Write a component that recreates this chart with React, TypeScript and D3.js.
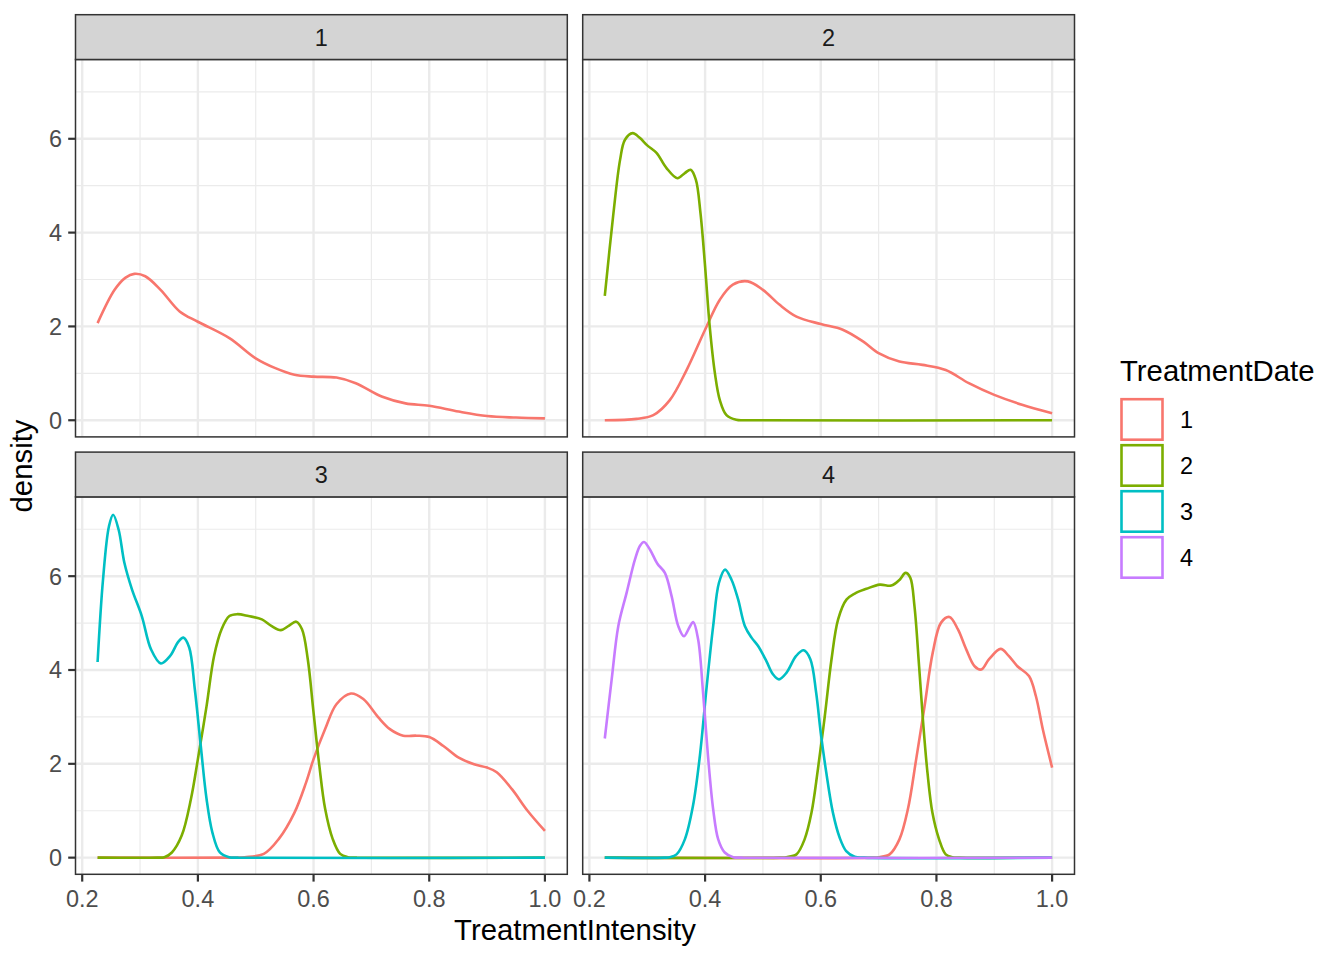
import React from 'react';
import * as d3 from 'd3';

type Pt = [number, number];

// ---------- data ----------
const FACETS = ['1', '2', '3', '4'];
const GROUP_LABELS = ['1', '2', '3', '4'];
const GROUP_COLORS = ['#F8766D', '#7CAE00', '#00BFC4', '#C77CFF'];
const X_TICKS = [0.2, 0.4, 0.6, 0.8, 1.0];
const X_TICK_LABELS = ['0.2', '0.4', '0.6', '0.8', '1.0'];
const X_MINOR = [0.3, 0.5, 0.7, 0.9];
const Y_TICKS = [0, 2, 4, 6];
const Y_TICK_LABELS = ['0', '2', '4', '6'];
const Y_MINOR = [1, 3, 5, 7];
const X_DOMAIN: [number, number] = [0.1884, 1.0387];
const Y_DOMAIN: [number, number] = [-0.355, 7.69];

const facet1Date1: Pt[] = [
  [0.2266, 2.07], [0.256, 2.78], [0.275, 3.04], [0.29, 3.12], [0.309, 3.07], [0.3355, 2.78],
  [0.3685, 2.32], [0.4, 2.1], [0.4545, 1.75], [0.5, 1.32], [0.534, 1.11], [0.567, 0.97],
  [0.6, 0.93], [0.6396, 0.91], [0.673, 0.79], [0.719, 0.5], [0.759, 0.36], [0.8, 0.31],
  [0.851, 0.185], [0.9, 0.09], [0.95, 0.057], [1.0, 0.04],
];

const facet2Date1: Pt[] = [
  [0.2266, 0], [0.2817, 0.03], [0.3105, 0.11], [0.339, 0.43], [0.368, 1.07], [0.4, 1.93],
  [0.4255, 2.57], [0.448, 2.89], [0.474, 2.96], [0.5, 2.78], [0.529, 2.46], [0.558, 2.21],
  [0.6, 2.05], [0.638, 1.93], [0.673, 1.68], [0.7, 1.43], [0.736, 1.25], [0.776, 1.18],
  [0.816, 1.07], [0.856, 0.79], [0.9, 0.54], [0.948, 0.33], [1.0, 0.15],
];
const facet2Date2: Pt[] = [
  [0.2266, 2.65], [0.241, 4.35], [0.253, 5.55], [0.2615, 5.98], [0.2748, 6.12], [0.287, 6.02],
  [0.3, 5.86], [0.316, 5.7], [0.333, 5.38], [0.352, 5.16], [0.365, 5.27], [0.375, 5.34],
  [0.384, 5.13], [0.392, 4.42], [0.4, 3.28], [0.408, 2.0], [0.417, 1.0], [0.4255, 0.43],
  [0.437, 0.11], [0.454, 0.01], [0.47, 0], [1.0, 0],
];

const facet3Date1: Pt[] = [
  [0.2266, 0], [0.46, 0], [0.481, 0.01], [0.514, 0.08], [0.54, 0.4], [0.567, 0.96], [0.587, 1.6],
  [0.6, 2.1], [0.62, 2.74], [0.6395, 3.27], [0.6646, 3.5], [0.686, 3.38], [0.712, 2.99],
  [0.732, 2.74], [0.755, 2.6], [0.778, 2.6], [0.8, 2.57], [0.8245, 2.38], [0.851, 2.13],
  [0.8775, 1.99], [0.9, 1.92], [0.9167, 1.82], [0.943, 1.46], [0.97, 1.0], [1.0, 0.57],
];
const facet3Date2: Pt[] = [
  [0.2266, 0], [0.33, 0], [0.342, 0.01], [0.355, 0.11], [0.372, 0.47], [0.388, 1.25], [0.4, 2.1],
  [0.415, 3.23], [0.428, 4.3], [0.441, 4.87], [0.4545, 5.15], [0.4677, 5.19], [0.4875, 5.15],
  [0.5106, 5.08], [0.527, 4.94], [0.5436, 4.85], [0.557, 4.94], [0.57, 5.03], [0.58, 4.87],
  [0.59, 4.23], [0.6, 3.09], [0.61, 1.96], [0.62, 1.04], [0.633, 0.4], [0.646, 0.08],
  [0.659, 0.01], [0.675, 0], [1.0, 0],
];
const facet3Date3: Pt[] = [
  [0.2266, 4.17], [0.236, 5.93], [0.2462, 7.06], [0.2535, 7.31], [0.263, 6.99], [0.273, 6.28],
  [0.286, 5.72], [0.303, 5.15], [0.319, 4.44], [0.336, 4.14], [0.352, 4.3], [0.366, 4.6],
  [0.375, 4.69], [0.385, 4.48], [0.3947, 3.59], [0.405, 2.38], [0.415, 1.25], [0.425, 0.54],
  [0.438, 0.11], [0.454, 0.01], [0.47, 0], [1.0, 0],
];

const facet4Date1: Pt[] = [
  [0.2266, 0], [0.69, 0], [0.701, 0.01], [0.719, 0.07], [0.736, 0.39], [0.7506, 1.03],
  [0.765, 2.1], [0.7795, 3.23], [0.7936, 4.37], [0.808, 5.01], [0.8225, 5.13], [0.837, 4.87],
  [0.8515, 4.44], [0.866, 4.08], [0.8776, 4.01], [0.891, 4.23], [0.911, 4.45], [0.925, 4.3],
  [0.94, 4.08], [0.96, 3.87], [0.972, 3.44], [0.984, 2.73], [1.0, 1.92],
];
const facet4Date2: Pt[] = [
  [0.2266, 0], [0.53, 0], [0.5406, 0.01], [0.558, 0.07], [0.572, 0.39], [0.584, 0.96],
  [0.595, 1.88], [0.607, 3.02], [0.6186, 4.23], [0.63, 5.08], [0.6444, 5.5], [0.6588, 5.63],
  [0.679, 5.73], [0.702, 5.82], [0.722, 5.8], [0.736, 5.92], [0.7466, 6.07], [0.7547, 5.97],
  [0.762, 5.36], [0.77, 4.08], [0.777, 2.88], [0.7845, 1.81], [0.793, 0.96], [0.8046, 0.39],
  [0.816, 0.07], [0.8275, 0.01], [0.84, 0], [1.0, 0],
];
const facet4Date3: Pt[] = [
  [0.2266, 0], [0.33, 0], [0.339, 0.01], [0.3507, 0.07], [0.365, 0.39], [0.379, 1.1],
  [0.391, 2.17], [0.4023, 3.59], [0.414, 4.94], [0.424, 5.86], [0.4345, 6.14], [0.4455, 5.93],
  [0.457, 5.51], [0.4687, 4.94], [0.4803, 4.69], [0.4917, 4.51], [0.506, 4.19], [0.5173, 3.91],
  [0.5278, 3.8], [0.5406, 3.94], [0.5575, 4.3], [0.5705, 4.42], [0.582, 4.23], [0.592, 3.52],
  [0.6, 2.66], [0.6096, 1.81], [0.621, 0.96], [0.6326, 0.43], [0.644, 0.14], [0.6586, 0.02],
  [0.675, 0], [1.0, 0],
];
const facet4Date4: Pt[] = [
  [0.2266, 2.54], [0.2385, 3.8], [0.25, 4.94], [0.2644, 5.65], [0.2788, 6.36], [0.2875, 6.65],
  [0.2944, 6.73], [0.3046, 6.57], [0.3173, 6.27], [0.3305, 6.07], [0.342, 5.58], [0.3535, 4.94],
  [0.3634, 4.72], [0.3726, 4.9], [0.3795, 5.02], [0.388, 4.65], [0.3965, 3.52], [0.405, 2.17],
  [0.414, 1.03], [0.4227, 0.39], [0.434, 0.11], [0.4486, 0.01], [0.465, 0], [1.0, 0],
];

// series per facet: [groupIndex, points]
const FACET_SERIES: [number, Pt[]][][] = [
  [[0, facet1Date1]],
  [[0, facet2Date1], [1, facet2Date2]],
  [[0, facet3Date1], [1, facet3Date2], [2, facet3Date3]],
  [[0, facet4Date1], [1, facet4Date2], [2, facet4Date3], [3, facet4Date4]],
];

// ---------- layout ----------
const W = 1344;
const H = 960;
const PANEL_W = 491.8;
const PANEL_H = 377.4;
const STRIP_H = 44.8;
const PANEL_POS = [
  { x: 75.5, y: 59.5 },
  { x: 582.7, y: 59.5 },
  { x: 75.5, y: 496.9 },
  { x: 582.7, y: 496.9 },
];
const FONT = "'Liberation Sans', Arial, Helvetica, sans-serif";
const AXIS_TEXT = 23.47;
const TITLE_TEXT = 29.33;
const GRID = '#EBEBEB';
const DARK = '#333333';

export default function App() {
  const line = (xs: d3.ScaleLinear<number, number>, ys: d3.ScaleLinear<number, number>) =>
    d3
      .line<Pt>()
      .x((d) => xs(d[0]))
      .y((d) => ys(d[1]))
      .curve(d3.curveCatmullRom.alpha(0.5));

  return (
    <svg
      width={W}
      height={H}
      viewBox={`0 0 ${W} ${H}`}
      style={{ position: 'absolute', left: 0, top: 0, background: '#fff' }}
      fontFamily={FONT}
    >
      <rect x={0} y={0} width={W} height={H} fill="#fff" />
      <defs>
        {PANEL_POS.map((p, i) => (
          <clipPath id={`clip${i}`} key={i}>
            <rect x={p.x} y={p.y} width={PANEL_W} height={PANEL_H} />
          </clipPath>
        ))}
      </defs>
      {FACETS.map((f, i) => {
        const p = PANEL_POS[i];
        const xs = d3.scaleLinear().domain(X_DOMAIN).range([p.x, p.x + PANEL_W]);
        const ys = d3.scaleLinear().domain(Y_DOMAIN).range([p.y + PANEL_H, p.y]);
        const gen = line(xs, ys);
        const isLeft = i % 2 === 0;
        const isBottom = i >= 2;
        return (
          <g key={f}>
            <rect x={p.x} y={p.y} width={PANEL_W} height={PANEL_H} fill="#fff" />
            <g clipPath={`url(#clip${i})`}>
              {Y_MINOR.map((v) => (
                <line key={'ym' + v} x1={p.x} x2={p.x + PANEL_W} y1={ys(v)} y2={ys(v)} stroke={GRID} strokeWidth={1.2} />
              ))}
              {X_MINOR.map((v) => (
                <line key={'xm' + v} x1={xs(v)} x2={xs(v)} y1={p.y} y2={p.y + PANEL_H} stroke={GRID} strokeWidth={1.2} />
              ))}
              {Y_TICKS.map((v) => (
                <line key={'yM' + v} x1={p.x} x2={p.x + PANEL_W} y1={ys(v)} y2={ys(v)} stroke={GRID} strokeWidth={2.4} />
              ))}
              {X_TICKS.map((v) => (
                <line key={'xM' + v} x1={xs(v)} x2={xs(v)} y1={p.y} y2={p.y + PANEL_H} stroke={GRID} strokeWidth={2.4} />
              ))}
              {FACET_SERIES[i].map(([g, pts]) => (
                <path
                  key={'s' + g}
                  d={gen(pts) || ''}
                  fill="none"
                  stroke={GROUP_COLORS[g]}
                  strokeWidth={2.6}
                  strokeLinejoin="round"
                />
              ))}
            </g>
            <rect x={p.x} y={p.y} width={PANEL_W} height={PANEL_H} fill="none" stroke={DARK} strokeWidth={1.5} />
            {/* strip */}
            <rect
              x={p.x}
              y={p.y - STRIP_H}
              width={PANEL_W}
              height={STRIP_H}
              fill="#D4D4D4"
              stroke={DARK}
              strokeWidth={1.5}
            />
            <text
              x={p.x + PANEL_W / 2}
              y={p.y - STRIP_H / 2 + 8.4}
              textAnchor="middle"
              fontSize={AXIS_TEXT}
              fill="#1A1A1A"
            >
              {f}
            </text>
            {isLeft &&
              Y_TICKS.map((v, k) => (
                <g key={'yt' + v}>
                  <line x1={p.x - 7.3} x2={p.x} y1={ys(v)} y2={ys(v)} stroke={DARK} strokeWidth={2.2} />
                  <text x={p.x - 13.5} y={ys(v) + 8.4} textAnchor="end" fontSize={AXIS_TEXT} fill="#4D4D4D">
                    {Y_TICK_LABELS[k]}
                  </text>
                </g>
              ))}
            {isBottom &&
              X_TICKS.map((v, k) => (
                <g key={'xt' + v}>
                  <line x1={xs(v)} x2={xs(v)} y1={p.y + PANEL_H} y2={p.y + PANEL_H + 7.3} stroke={DARK} strokeWidth={2.2} />
                  <text x={xs(v)} y={p.y + PANEL_H + 32.5} textAnchor="middle" fontSize={AXIS_TEXT} fill="#4D4D4D">
                    {X_TICK_LABELS[k]}
                  </text>
                </g>
              ))}
          </g>
        );
      })}
      {/* axis titles */}
      <text x={575} y={940} textAnchor="middle" fontSize={TITLE_TEXT} fill="#000">
        TreatmentIntensity
      </text>
      <text transform="translate(32,466) rotate(-90)" textAnchor="middle" fontSize={TITLE_TEXT} fill="#000">
        density
      </text>
      {/* legend */}
      <text x={1120} y={380.5} fontSize={TITLE_TEXT} fill="#000">
        TreatmentDate
      </text>
      {GROUP_LABELS.map((lab, k) => (
        <g key={'lg' + lab}>
          <rect
            x={1121.5}
            y={399.2 + k * 46}
            width={41}
            height={40.5}
            fill="#fff"
            stroke={GROUP_COLORS[k]}
            strokeWidth={2.6}
          />
          <text x={1180} y={419.5 + k * 46 + 8.4} fontSize={AXIS_TEXT} fill="#000">
            {lab}
          </text>
        </g>
      ))}
    </svg>
  );
}
